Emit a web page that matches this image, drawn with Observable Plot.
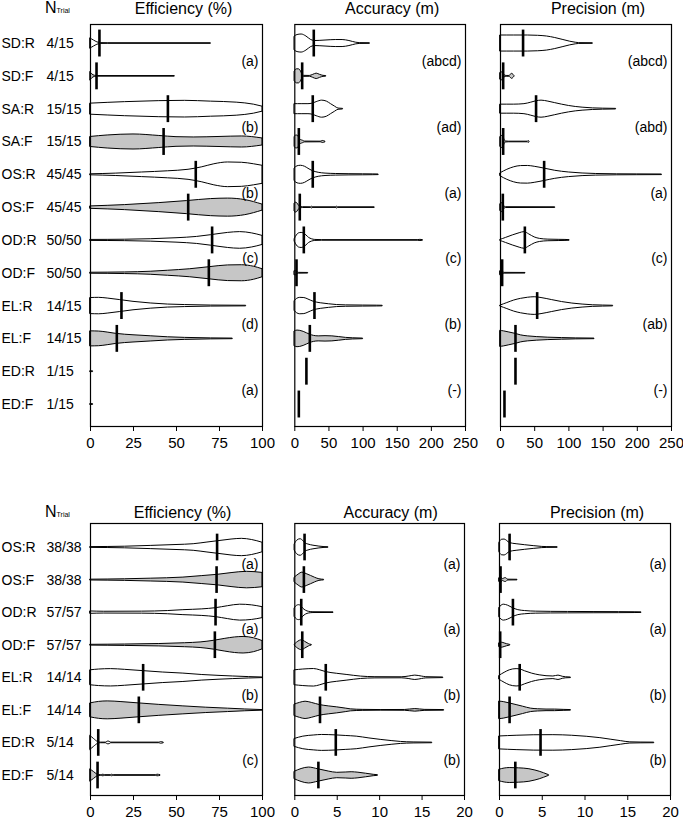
<!DOCTYPE html>
<html><head><meta charset="utf-8">
<script src="https://cdn.jsdelivr.net/npm/d3@7"></script>
<script src="https://cdn.jsdelivr.net/npm/@observablehq/plot@0.6"></script>
<style>
body{margin:0;background:#fff;}
#fig{position:relative;width:683px;height:819px;font-family:"Liberation Sans",Arial,sans-serif;color:#000;}
#fig .p{position:absolute;}
#fig svg{overflow:visible;}
.nt{position:absolute;font-size:16px;line-height:16px;white-space:nowrap;}
.nt span{font-size:7px;}
</style></head><body><div id="fig"></div>
<script>
// ---------- Data ----------
// density profiles: [value, density] pairs per row; density in "per-row" units of 1/32.7
const rowsTop   = ["SD:R","SD:F","SA:R","SA:F","OS:R","OS:F","OD:R","OD:F","EL:R","EL:F","ED:R","ED:F"];
const trialsTop = ["4/15","4/15","15/15","15/15","45/45","45/45","50/50","50/50","14/15","14/15","1/15","1/15"];
const rowsBot   = ["OS:R","OS:F","OD:R","OD:F","EL:R","EL:F","ED:R","ED:F"];
const trialsBot = ["38/38","38/38","57/57","57/57","14/14","14/14","5/14","5/14"];

const effTop = [
 [[0,5],[2,3],[4,1.2],[6,0.4],[10,0.3],[70,0.3]],
 [[0,4],[1,2],[2.5,0.6],[4,0.3],[49,0.3]],
 [[0,5.5],[20,7],[40,8],[55,8.3],[70,7.5],[85,6.5],[95,4.5],[100,2.5]],
 [[0,5],[10,6.5],[25,7.5],[40,6],[50,4.8],[60,4.5],[75,5],[88,5.5],[100,3.5]],
 [[0,0.5],[15,1.2],[30,2.3],[45,3.5],[57,5],[65,7.5],[72,10.5],[80,12.3],[88,12],[95,10.5],[100,9]],
 [[0,1.2],[20,2.5],[40,4.5],[56,6.5],[70,8.5],[80,9],[90,7.5],[100,3]],
 [[0,0.5],[20,0.7],[35,1.2],[50,2.2],[62,3.5],[70,5.2],[80,7.5],[87,8.3],[94,7],[100,4.5]],
 [[0,0.5],[20,0.8],[35,1.5],[45,2.5],[58,4],[69,6],[80,7.8],[88,8],[95,6.5],[100,4]],
 [[0,8],[5,8.2],[10,7.5],[17,6],[25,4.2],[35,2.6],[45,1.5],[55,1],[70,0.5],[90.5,0.3]],
 [[0,7.5],[5,7.3],[10,6.3],[15,5],[25,3.6],[35,2.6],[45,1.6],[55,1],[70,0.5],[82.7,0.3]],
 [[0,0.4],[1.5,0.4]],
 [[0,0.4],[1.5,0.4]]
];
const effTopMedian = [5.2,3.5,45,42.5,61.2,56.8,70.7,68.8,18,15.3,null,null];

const accTop = [
 [[0,7],[4,8.5],[10,9],[17,7],[24,3.5],[30,2.5],[45,3],[60,3.5],[70,3.5],[80,2.5],[90,0.8],[95,0.4],[110,0.3]],
 [[0,5],[3,7],[6,7],[9,5],[11,2],[14,0.5],[22,0.4],[27,1.5],[32,2.7],[37,1.5],[42,0.5],[46,0.3]],
 [[0,5],[10,5],[20,5],[26,5.5],[32,7],[40,8.5],[47,7.5],[53,5],[59,2.5],[64,0.6],[70.7,0.3]],
 [[0,5],[2,6.5],[5,6],[7,3],[9,2],[12,1.2],[15,0.4],[38,0.3],[41,1],[44.9,0.3]],
 [[0,6.5],[4,8.5],[9,9],[15,8],[20,6],[26,3.8],[35,2],[45,1.2],[60,0.8],[80,0.6],[100,0.5],[115,0.4],[122.8,0.3]],
 [[0,4],[2,5],[4,4],[6,2],[8,0.8],[12,0.4],[24,0.3],[25,0.9],[26,0.3],[61,0.3],[62,0.9],[63,0.3],[117,0.3]],
 [[0,1.5],[3,5],[6,7],[10,7.5],[13,7],[17,5],[21,2.5],[25,1.2],[30,0.5],[40,0.3],[180,0.3],[184,0.6],[187.7,0.3]],
 [[0,2],[2,2],[4,1],[6,0.4],[19.6,0.3]],
 [[0,5],[3,7],[8,8.2],[14,8],[20,6.5],[28,4.2],[38,2.8],[50,1.8],[62,1],[75,0.7],[100,0.5],[120,0.4],[128.7,0.3]],
 [[0,7.5],[4,8.3],[8,8],[13,7],[18,5.5],[22,4.3],[28,3],[35,2.5],[45,2.7],[55,2.5],[65,1.8],[75,1],[85,0.6],[100,0.3]],
 [],
 []
];
const accTopMedian = [27.8,10.8,26.3,5.9,26.3,7.3,13.2,2.5,28.8,22,17,5.9];

const precTop = [
 [[0,8],[20,8],[40,8],[55,7.7],[68,7],[80,5.5],[92,3.5],[102,1.8],[110,0.8],[115,0.4],[135,0.3]],
 [[0,3.5],[2,4],[4,3],[6,1],[9,0.4],[13,0.4],[15,1.5],[17,2.5],[19,1.5],[20.5,0.3]],
 [[0,4.5],[20,4.5],[35,5],[45,6.5],[52,7.8],[60,8.5],[70,7.5],[80,6],[90,4.5],[100,3.2],[110,2.2],[120,1.5],[135,0.8],[150,0.5],[169,0.3]],
 [[0,5],[2,6],[4,5],[6,2],[8,0.5],[12,0.3],[40,0.3],[41,1],[42.4,0.3]],
 [[0,1.5],[10,5],[20,7.5],[30,8.7],[40,8.8],[50,8],[64,6.2],[80,4],[100,2.3],[120,1.3],[140,0.8],[170,0.5],[200,0.4],[236,0.3]],
 [[0,3.5],[2,4.5],[4,3],[6,1],[8,0.4],[80,0.3]],
 [[0,0.5],[8,2.5],[18,5],[28,7.2],[35,8.3],[42,6],[50,3],[58,1.5],[70,0.8],[85,0.6],[95,0.5],[101,0.3]],
 [[0,2],[2,2],[4,1],[6,0.4],[36.5,0.3]],
 [[0,0.5],[10,3],[20,5.5],[30,7.2],[40,8.3],[50,8.8],[60,8],[75,6],[90,4],[105,2.5],[120,1.5],[135,0.8],[150,0.5],[164.7,0.3]],
 [[0,8],[5,7.5],[12,6.5],[22,5],[30,3.5],[40,2.5],[53,1.8],[70,1.2],[90,0.8],[110,0.5],[137.4,0.3]],
 [],
 []
];
const precTopMedian = [33,3.9,52,3.9,63.8,3.4,35.6,2.4,53.6,21.9,21.9,5.8];

const effBot = [
 [[0,0.4],[20,0.8],[35,1.6],[50,2.5],[60,3.3],[68,5],[75,6.5],[82,8],[88,8.7],[94,7.5],[100,4.8]],
 [[0,0.4],[20,0.8],[35,1.4],[54,2.5],[65,4],[74,5.3],[82,7],[91,8.3],[100,7.2]],
 [[0,1.2],[8,0.9],[30,1],[45,1.6],[54,2.5],[65,3.3],[73,4.5],[80,6.5],[87,8],[94,7.3],[100,5.5]],
 [[0,0.4],[20,0.7],[40,1.2],[55,2],[64,2.8],[72,4.5],[78,6.3],[84,7.8],[89,8.3],[95,7],[100,4.2]],
 [[0,7.5],[5,8.3],[12,8.7],[20,8],[30.6,6.7],[42,5.3],[54,4.2],[65,2.8],[75,1.9],[83,1.3],[92,0.7],[100,0.3]],
 [[0,7],[5,8.5],[10,9],[18,8.3],[28,7],[40,5.5],[54,4],[67,2.7],[80,1.7],[90,0.9],[100,0.3]],
 [[0,7],[2,4],[4.5,0.8],[6,0.3],[9,0.3],[10,1.3],[11,1.3],[12,0.3],[40,0.3],[41,0.8],[42.6,0.3]],
 [[0,6],[2,3.5],[4,1],[6,0.3],[7.5,0.8],[8.5,0.3],[12,0.3],[12.6,0.8],[13.5,0.3],[38,0.3],[39,0.8],[40.7,0.3]]
];
const effBotMedian = [73.6,73.3,72.7,72.3,30.6,28.1,4.5,4.1];

const accBot = [
 [[0,3.3],[0.3,7],[0.68,8.3],[1,6.5],[1.2,4.5],[1.6,3],[2.2,1.8],[2.9,0.9],[3.5,0.4],[3.96,0.3]],
 [[0,2.5],[0.45,5.5],[0.9,7.5],[1.4,6],[1.9,4.2],[2.4,2.3],[2.9,0.8],[3.45,0.3]],
 [[0,4.5],[0.25,6.8],[0.5,7.5],[0.76,6.5],[1,4],[1.3,2],[1.7,0.8],[2.2,0.4],[4.56,0.3]],
 [[0,0.5],[0.25,2.5],[0.6,4.5],[0.88,5],[1.2,3.5],[1.5,2],[1.8,0.7],[2,0.3]],
 [[0,7.5],[1,8.3],[2.26,8.8],[3,7.5],[3.65,5.8],[5,4],[6.2,2.8],[7.8,1.2],[9.5,0.6],[12.6,0.5],[13.5,1.3],[14.2,2.2],[15,1.2],[15.5,0.6],[17.5,0.3]],
 [[0,5.8],[0.6,7.5],[1.27,8.7],[2,7.5],[2.97,5.3],[4,4],[5,3],[6,1.8],[6.6,1],[8,0.5],[10.2,0.3],[13,0.4],[14.2,1.3],[15.3,0.5],[17.6,0.3]],
 [[0,4],[1,6.3],[2.3,7.5],[3.2,8],[4.8,7.6],[6,7],[7.3,6.3],[8.8,4.5],[10.2,3],[11.5,1.8],[12.5,1],[14,0.5],[16.2,0.3]],
 [[0,3.8],[0.8,6.5],[1.67,8],[2.78,6.2],[4,4],[5,2.7],[6,3],[6.7,3.3],[7.5,2.8],[8.4,1.8],[9.3,0.7],[9.8,0.3]]
];
const accBotMedian = [1.15,1.07,0.76,0.88,3.65,2.97,4.83,2.78];

const precBot = [
 [[0,5],[0.3,7.8],[0.6,8],[0.9,6.5],[1.2,4.5],[2,3.3],[3,2.3],[4,1.4],[5,0.6],[5.6,0.4],[6.8,0.3]],
 [[0,2],[0.2,2.5],[0.4,1],[0.55,1.5],[0.7,2],[0.85,1.5],[1,0.4],[2.1,0.3]],
 [[0,5],[0.5,8],[1,7],[1.57,4.5],[2.2,2.5],[3,1.6],[4.3,1],[6,0.8],[8,0.7],[11,0.6],[14,0.5],[15.8,0.4],[16.6,0.3]],
 [[0,2],[0.3,2.5],[0.6,1.8],[0.9,1],[1.26,0.3]],
 [[0,2],[0.6,5],[1.2,7.5],[2,8.7],[2.36,8.5],[3,6.5],[3.8,4.2],[4.7,2.5],[5.5,1.6],[6.3,1.3],[6.9,2.2],[7.4,1],[7.8,0.5],[8.35,0.3]],
 [[0,8.8],[0.5,8.3],[1.18,7],[2,5.3],[2.75,3.7],[3.7,1.7],[4.5,1.1],[5.5,0.8],[6.5,0.8],[7.5,0.5],[8.35,0.3]],
 [[0,6.5],[2,7.2],[4,7.7],[6.3,7.8],[8.5,7.2],[10.2,6.2],[11.8,4.8],[13,3.3],[14.2,1.8],[15.3,0.6],[16.5,0.4],[18.1,0.3]],
 [[0,5.8],[0.6,7],[1.2,7.5],[2.3,7.2],[3.5,6.3],[4.2,5],[4.7,3.8],[5.2,2.3],[5.5,1.3],[5.8,0.3]]
];
const precBotMedian = [1.18,0.12,1.57,0.08,2.36,1.18,4.8,1.85];

const lettersTopEff  = ["(a)","(b)","(b)","(c)","(d)","(a)"];
const lettersTopAcc  = ["(abcd)","(ad)","(a)","(c)","(b)","(-)"];
const lettersTopPrec = ["(abcd)","(abd)","(a)","(c)","(ab)","(-)"];
const lettersBotEff  = ["(a)","(a)","(b)","(c)"];
const lettersBotAcc  = ["(a)","(a)","(b)","(b)"];
const lettersBotPrec = ["(a)","(a)","(b)","(b)"];

const ticksEff = [0,25,50,75,100];
const ticksTopM = [0,50,100,150,200,250];
const ticksBotM = [0,5,10,15,20];

// ---------- Drawing ----------
const GRAY = "#c6c6c6";
const DENS_PER_ROW = 32.7;
const FONT = '"Liberation Sans", Arial, sans-serif';

function buildPanel(c) {
  const pts = [];
  c.profiles.forEach((prof, i) => prof.forEach(([v, d]) => pts.push({row: i, v, d})));
  const hw = p => p.d / DENS_PER_ROW;
  const isF = p => p.row % 2 === 1;
  const meds = c.medians.map((m, i) => ({m, row: i})).filter(d => d.m != null);
  const areaOpts = {x: "v", y1: p => p.row - hw(p), y2: p => p.row + hw(p), z: "row",
    stroke: "black", strokeWidth: 1, curve: "monotone-x"};
  const marks = [
    Plot.areaY(pts.filter(p => !isF(p)), {...areaOpts, fill: "white"}),
    Plot.areaY(pts.filter(isF), {...areaOpts, fill: GRAY}),
    Plot.ruleX(meds, {x: "m", y1: d => d.row - 0.41, y2: d => d.row + 0.41, stroke: "black", strokeWidth: 2.6}),
    Plot.text(c.letters, {y: (d, i) => 2 * i + 0.5, text: d => d, frameAnchor: "right", textAnchor: "end",
      lineAnchor: "middle", dx: -4, dy: c.letterDy, fontSize: 14, fill: "black"}),
    Plot.text([c.title], {text: d => d, frameAnchor: "top", lineAnchor: "middle", dx: c.titleDx, dy: c.titleDy,
      fontSize: 16, fill: "black"}),
    Plot.frame({stroke: "black", strokeWidth: 1.2})
  ];
  if (c.rowNames) {
    marks.push(
      Plot.text(c.rowNames, {y: (d, i) => i, text: d => d, frameAnchor: "left", textAnchor: "start", lineAnchor: "middle", dx: -89, fontSize: 14, fill: "black"}),
      Plot.text(c.trials, {y: (d, i) => i, text: d => d, frameAnchor: "left", textAnchor: "start", lineAnchor: "middle", dx: -44, fontSize: 14, fill: "black"})
    );
  }
  return Plot.plot({
    width: c.width, height: c.height,
    marginLeft: c.mL, marginRight: c.mR, marginTop: c.mT, marginBottom: c.mB,
    x: {domain: c.xDomain, ticks: c.ticks, tickSize: 5, tickPadding: 6, label: null},
    y: {domain: c.yDomain, axis: null},
    style: {fontFamily: FONT, fontSize: "15px", color: "black", background: "transparent", overflow: "visible"},
    marks
  });
}

const fig = document.getElementById("fig");
function place(svg, left, top) {
  const d = document.createElement("div");
  d.className = "p"; d.style.left = left + "px"; d.style.top = top + "px";
  d.appendChild(svg); fig.appendChild(d);
}

const yTop = [11.67, -0.58];
const yBot = [7.614, -0.737];
const topBox = {height: 455, mT: 24, mB: 29, yDomain: yTop, titleDy: -16, letterDy: 2};
const botBox = {height: 329, mT: 33, mB: 24, yDomain: yBot, titleDy: -11, letterDy: 1};

place(buildPanel({...topBox, width: 280, mL: 90, mR: 18, xDomain: [0, 100], ticks: ticksEff,
  profiles: effTop, medians: effTopMedian, letters: lettersTopEff, title: "Efficiency (%)", titleDx: 7,
  rowNames: rowsTop, trials: trialsTop}), 0, 0);
place(buildPanel({...topBox, width: 200, mL: 14.3, mR: 15, xDomain: [0, 250], ticks: ticksTopM,
  profiles: accTop, medians: accTopMedian, letters: lettersTopAcc, title: "Accuracy (m)", titleDx: 12}), 280, 0);
place(buildPanel({...topBox, width: 203, mL: 20, mR: 12, xDomain: [0, 250], ticks: ticksTopM,
  profiles: precTop, medians: precTopMedian, letters: lettersTopPrec, title: "Precision (m)", titleDx: 12}), 480, 0);

place(buildPanel({...botBox, width: 280, mL: 90, mR: 18, xDomain: [0, 100], ticks: ticksEff,
  profiles: effBot, medians: effBotMedian, letters: lettersBotEff, title: "Efficiency (%)", titleDx: 6,
  rowNames: rowsBot, trials: trialsBot}), 0, 490);
place(buildPanel({...botBox, width: 200, mL: 14.3, mR: 16, xDomain: [0, 20], ticks: ticksBotM,
  profiles: accBot, medians: accBotMedian, letters: lettersBotAcc, title: "Accuracy (m)", titleDx: 11}), 280, 490);
place(buildPanel({...botBox, width: 203, mL: 19, mR: 13, xDomain: [0, 20], ticks: ticksBotM,
  profiles: precBot, medians: precBotMedian, letters: lettersBotPrec, title: "Precision (m)", titleDx: 12}), 480, 490);

// N_Trial headers
for (const top of [0, 504]) {
  const h = document.createElement("div");
  h.className = "nt"; h.style.left = "45px"; h.style.top = top + "px";
  h.innerHTML = 'N<span>Trial</span>';
  fig.appendChild(h);
}
</script></body></html>
